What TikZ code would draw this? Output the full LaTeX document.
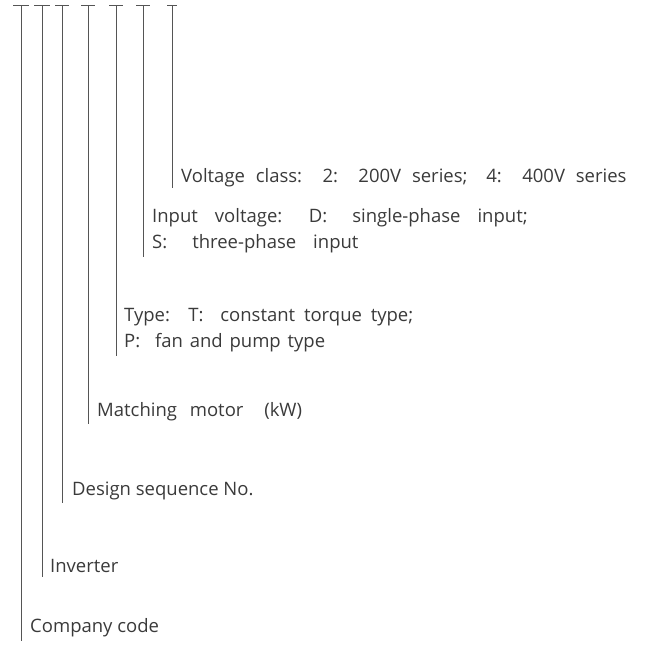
\documentclass[tikz,border=0pt]{standalone}
\usepackage{fontspec}
\setmainfont{Open Sans}
\newcommand\wcolon{:\hspace{8pt}}
\newcommand\wsemi{;\hspace{8pt}}
\newcommand\setspace[1]{\spaceskip=#1pt\relax}
\definecolor{txt}{HTML}{3A3A3A}
\definecolor{ln}{HTML}{555555}
\begin{document}
\begin{tikzpicture}[x=1pt,y=-1pt,
  lead/.style={draw=ln, line width=0.9pt},
  lbl/.style={anchor=west, align=left, inner sep=0pt, text=txt, font=\fontsize{18.5}{26}\selectfont}]
\useasboundingbox (0,0) rectangle (652,657);
% tick tops
\foreach \i/\x/\w in {1/21/8,2/42/8,3/62/7,4/88/7,5/116/7,6/143/7,7/172/5}{
  \coordinate (t\i) at (\x,5);
  \coordinate (tl\i) at (\x-\w,5);
  \coordinate (tr\i) at (\x+\w,5);
}
\coordinate (b1) at (21,641);
\coordinate (b2) at (42,577);
\coordinate (b3) at (62,503);
\coordinate (b4) at (88,424);
\coordinate (b5) at (116,356);
\coordinate (b6) at (143,257);
\coordinate (b7) at (172,188);
\foreach \i in {1,...,7}{
  \draw[lead] (tl\i) -- (tr\i);
  \draw[lead] (t\i) -- (b\i);
}
\node[lbl] (l7) at (181,178) {\setspace{10.8}Voltage class\wcolon{} 2\wcolon{} 200V series\wsemi{} 4\wcolon{} 400V series};
\node[lbl] (l6) at (152,231) {{\setspace{17}Input voltage\wcolon{} D\wcolon{} single-phase input;}\\{\setspace{17}S\wcolon{} three-phase input}};
\node[lbl] (l5) at (124,330) {{\setspace{8.8}Type\wcolon{} T\wcolon{} constant torque type;}\\{\setspace{6.8}P\wcolon{} fan and pump type}};
\node[lbl] (l4) at (97,412) {\setspace{12.8}Matching motor\hspace{8pt} (kW)};
\node[lbl] (l3) at (72,491) {Design sequence No.};
\node[lbl] (l2) at (50,566) {Inverter};
\node[lbl] (l1) at (30,628) {Company code};
\end{tikzpicture}
\end{document}
